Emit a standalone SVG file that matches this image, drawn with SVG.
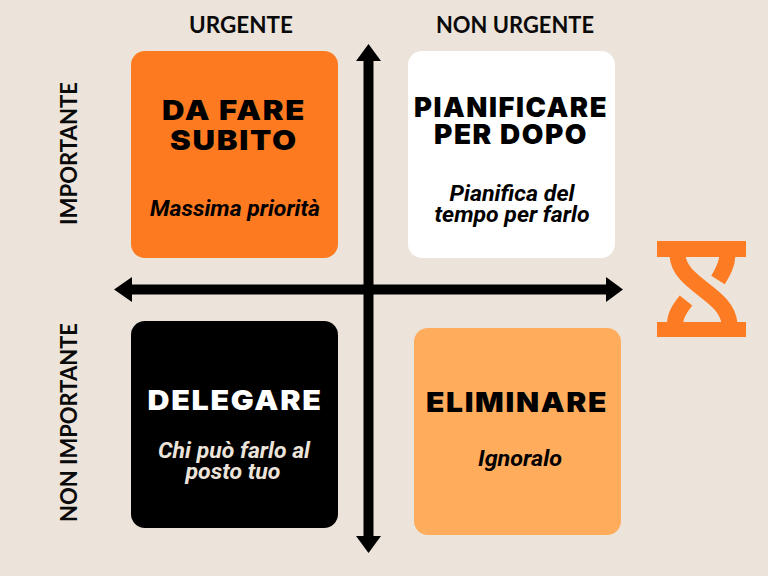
<svg xmlns="http://www.w3.org/2000/svg" width="768" height="576" viewBox="0 0 768 576">
<style>
.t{font-family:"Inter","Liberation Sans",sans-serif;font-weight:900;font-size:27px;letter-spacing:1.500px;text-anchor:middle}
.s{font-family:"Roboto","Liberation Sans",sans-serif;font-weight:700;font-style:italic;font-size:22px;text-anchor:middle}
.a{font-family:"Lato","Liberation Sans",sans-serif;font-weight:700;font-size:22px;text-anchor:middle;fill:#0a0a0a}
.h{fill:none;stroke:#fd7b23;stroke-width:16}
</style>
<rect width="768" height="576" fill="#ece4da"/>
<g id="node-urgent-important">
<rect x="131" y="51" width="207" height="207" rx="14" fill="#fd7a21"/>
<text class="t" x="234" y="120" textLength="144" lengthAdjust="spacingAndGlyphs">DA FARE</text>
<text class="t" x="234" y="150" textLength="128" lengthAdjust="spacingAndGlyphs">SUBITO</text>
<text class="s" x="235" y="216" textLength="170" lengthAdjust="spacingAndGlyphs">Massima priorità</text>
</g>
<g id="node-nonurgent-important">
<rect x="408" y="51" width="207" height="207" rx="14" fill="#ffffff"/>
<text class="t" x="511" y="117" textLength="194" lengthAdjust="spacingAndGlyphs">PIANIFICARE</text>
<text class="t" x="511" y="144" textLength="154" lengthAdjust="spacingAndGlyphs">PER DOPO</text>
<text class="s" x="512" y="201" textLength="125" lengthAdjust="spacingAndGlyphs">Pianifica del</text>
<text class="s" x="512" y="222" textLength="155" lengthAdjust="spacingAndGlyphs">tempo per farlo</text>
</g>
<g id="node-urgent-notimportant">
<rect x="131" y="321" width="207" height="207" rx="14" fill="#000000"/>
<text class="t" x="235" y="410" textLength="175" lengthAdjust="spacingAndGlyphs" fill="#ffffff">DELEGARE</text>
<text class="s" x="234" y="458" textLength="152" lengthAdjust="spacingAndGlyphs" fill="#ece4da">Chi può farlo al</text>
<text class="s" x="233" y="479" textLength="95" lengthAdjust="spacingAndGlyphs" fill="#ece4da">posto tuo</text>
</g>
<g id="node-nonurgent-notimportant">
<rect x="414" y="328" width="207" height="207" rx="14" fill="#ffac5c"/>
<text class="t" x="517" y="412" textLength="182" lengthAdjust="spacingAndGlyphs">ELIMINARE</text>
<text class="s" x="520" y="466" textLength="84" lengthAdjust="spacingAndGlyphs">Ignoralo</text>
</g>
<g id="connectors" fill="#000000">
<path d="M363.500,61H373.500V536H363.500Z"/>
<path d="M368.500,44L381,61H356Z"/>
<path d="M368.500,553L381,536H356Z"/>
<path d="M132,284.500H606V294.500H132Z"/>
<path d="M114,289.500L132,277V302Z"/>
<path d="M623,289.500L606,277V302Z"/>
</g>
<g id="label-urgente"><text class="a" x="241" y="33" textLength="104" lengthAdjust="spacingAndGlyphs">URGENTE</text></g>
<g id="label-non-urgente"><text class="a" x="515" y="33" textLength="158" lengthAdjust="spacingAndGlyphs">NON URGENTE</text></g>
<g id="label-importante"><text class="a" transform="translate(77,153.500) rotate(-90)" textLength="143" lengthAdjust="spacingAndGlyphs">IMPORTANTE</text></g>
<g id="label-non-importante"><text class="a" transform="translate(77,422.500) rotate(-90)" textLength="199" lengthAdjust="spacingAndGlyphs">NON IMPORTANTE</text></g>
<g id="hourglass">
<rect x="657" y="241" width="89" height="16" fill="#fd7b23"/>
<rect x="657" y="322" width="89" height="15" fill="#fd7b23"/>
<path class="h" d="M677.500,255C679,285 727,293 729.500,324"/>
<path class="h" d="M727.500,255C727,265 723,272 718,280"/>
<path class="h" d="M675,324C675,315 680,308 686,300.500"/>
</g>
</svg>
